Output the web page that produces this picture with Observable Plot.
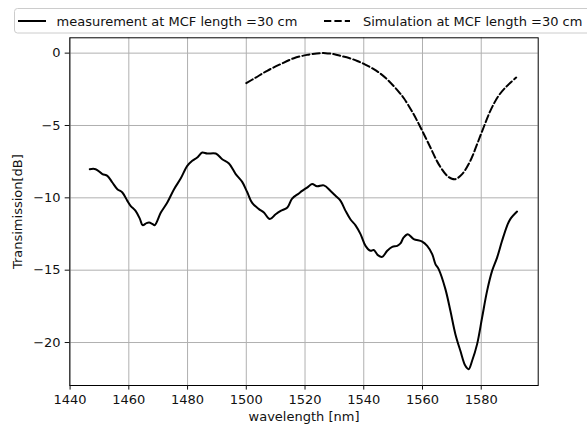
<!DOCTYPE html>
<html><head><meta charset="utf-8">
<script src="https://cdn.jsdelivr.net/npm/d3@7"></script>
<script src="https://cdn.jsdelivr.net/npm/@observablehq/plot@0.6"></script>
<style>
html,body{margin:0;padding:0;background:#fff;}
body{width:587px;height:425px;overflow:hidden;font-family:"DejaVu Sans",sans-serif;}
#legend{position:relative;height:34px;width:587px;}
#legend svg,#chart svg{display:block;}
</style></head><body>
<div id="legend"></div>
<div id="chart"></div>
<script>
// Series names (legend)
const seriesNames = ["measurement at MCF length =30 cm", "Simulation at MCF length =30 cm"];

// Measurement: wavelength [nm] and transmission [dB]
const measurementWl = [1446.7,1448.7,1451.0,1452.7,1454.4,1456.1,1457.8,1459.5,1460.6,1462.3,1463.8,1464.7,1466.0,1466.9,1468.0,1468.8,1470.9,1473.1,1475.4,1477.7,1479.9,1481.6,1483.3,1485.0,1486.7,1489.6,1491.8,1494.1,1496.4,1498.6,1500.3,1502.0,1504.3,1506.0,1508.0,1510.0,1511.7,1514.0,1515.6,1517.9,1519.0,1520.7,1522.4,1524.1,1526.4,1528.7,1530.4,1532.1,1533.8,1535.5,1537.2,1538.9,1540.6,1542.3,1543.4,1544.8,1546.3,1548.0,1549.7,1551.4,1552.5,1553.6,1555.0,1557.0,1559.9,1561.6,1563.3,1564.4,1565.5,1567.8,1569.5,1571.2,1572.9,1574.6,1575.7,1576.9,1578.6,1580.3,1582.0,1583.7,1585.4,1587.1,1588.8,1589.9,1592.2];
const measurementDb = [-8.02,-8.02,-8.36,-8.48,-8.94,-9.40,-9.63,-10.21,-10.55,-10.90,-11.47,-11.89,-11.75,-11.71,-11.80,-11.89,-11.02,-10.32,-9.40,-8.65,-7.79,-7.44,-7.21,-6.87,-6.94,-6.94,-7.33,-7.63,-8.36,-8.90,-9.60,-10.35,-10.78,-11.02,-11.47,-11.13,-10.90,-10.67,-10.05,-9.70,-9.52,-9.29,-9.05,-9.20,-9.14,-9.52,-9.86,-10.21,-10.90,-11.50,-11.90,-12.51,-13.32,-13.66,-13.61,-13.96,-14.08,-13.66,-13.39,-13.32,-13.15,-12.74,-12.51,-12.85,-13.02,-13.32,-13.89,-14.58,-14.93,-16.31,-17.81,-19.42,-20.57,-21.61,-21.84,-21.26,-20.11,-18.27,-16.43,-15.05,-14.13,-12.97,-11.93,-11.47,-10.95];

// Simulation: wavelength [nm] and transmission [dB]
const simulationWl = [1500.0,1503.2,1507.1,1511.7,1516.2,1520.7,1524.0,1527.0,1530.0,1532.1,1535.0,1537.8,1540.5,1543.4,1545.7,1548.0,1550.2,1552.2,1553.6,1556.5,1559.3,1562.7,1565.5,1568.4,1570.0,1571.2,1573.5,1576.3,1578.6,1580.8,1583.1,1585.9,1588.8,1591.9];
const simulationDb = [-2.07,-1.69,-1.22,-0.76,-0.35,-0.12,-0.02,0.00,-0.08,-0.19,-0.34,-0.54,-0.79,-1.11,-1.42,-1.82,-2.28,-2.74,-3.10,-4.05,-5.12,-6.52,-7.67,-8.48,-8.68,-8.71,-8.36,-7.44,-6.29,-5.14,-3.99,-2.95,-2.26,-1.69];

// Axis ticks and labels
const xTicks = [1440,1460,1480,1500,1520,1540,1560,1580];
const yTicks = [0,-5,-10,-15,-20];
const xLabel = "wavelength [nm]";
const yLabel = "Transimission[dB]";

const measurement = measurementWl.map((w,i)=>({wl:w, db:measurementDb[i]}));
const simulation = simulationWl.map((w,i)=>({wl:w, db:simulationDb[i]}));

const FONT = "DejaVu Sans, sans-serif";
const fmtY = d => d < 0 ? "\u2212" + (-d) : String(d);

// Legend (HTML/SVG above the plot)
const leg = d3.select("#legend").append("svg").attr("width",587).attr("height",34)
  .style("font-family",FONT).style("font-size","13px");
leg.append("rect").attr("x",14.5).attr("y",8.5).attr("width",590).attr("height",24.5)
  .attr("rx",3).attr("fill","white").attr("stroke","#cccccc").attr("stroke-width",1);
const legendItems = [
  {name: seriesNames[0], x1: 18, x2: 46, tx: 56.5, dash: null},
  {name: seriesNames[1], x1: 324, x2: 350, tx: 363, dash: "7.3,3.1"}
];
legendItems.forEach(it => {
  const l = leg.append("line").attr("x1",it.x1).attr("x2",it.x2).attr("y1",21).attr("y2",21)
    .attr("stroke","black").attr("stroke-width",2);
  if (it.dash) l.attr("stroke-dasharray", it.dash);
  leg.append("text").attr("x",it.tx).attr("y",25.5).attr("fill","#111").text(it.name);
});

const chart = Plot.plot({
  width: 587,
  height: 391,
  marginTop: 3.3,
  marginBottom: 40,
  marginLeft: 69.3,
  marginRight: 49.3,
  style: {fontFamily: FONT, fontSize: "13px", background: "white"},
  x: {domain: [1439.9, 1599.4]},
  y: {domain: [-22.97, 1.06]},
  marks: [
    Plot.gridX(xTicks, {stroke: "#b0b0b0", strokeOpacity: 1, strokeWidth: 1}),
    Plot.gridY(yTicks, {stroke: "#b0b0b0", strokeOpacity: 1, strokeWidth: 1}),
    Plot.line(measurement, {x: "wl", y: "db", stroke: "black", strokeWidth: 2, curve: "catmull-rom"}),
    Plot.line(simulation, {x: "wl", y: "db", stroke: "black", strokeWidth: 2, strokeDasharray: "7.3,3.1", curve: "catmull-rom"}),
    Plot.frame({stroke: "black", strokeWidth: 1}),
    Plot.axisX(xTicks, {tickSize: 4.6, tickPadding: 4.6, tickFormat: d => String(d), label: null, color: "#111", fontSize: 13}),
    Plot.axisY(yTicks, {tickSize: 4.6, tickPadding: 4.6, tickFormat: fmtY, label: null, color: "#111", fontSize: 13}),
    Plot.text([xLabel], {text: d => d, frameAnchor: "bottom", dy: 31.3, lineAnchor: "middle", fill: "#111", fontSize: 13}),
    Plot.text([yLabel], {text: d => d, frameAnchor: "left", dx: -51.5, rotate: -90, lineAnchor: "middle", textAnchor: "middle", fill: "#111", fontSize: 13})
  ]
});
document.getElementById("chart").appendChild(chart);
</script>
</body></html>
